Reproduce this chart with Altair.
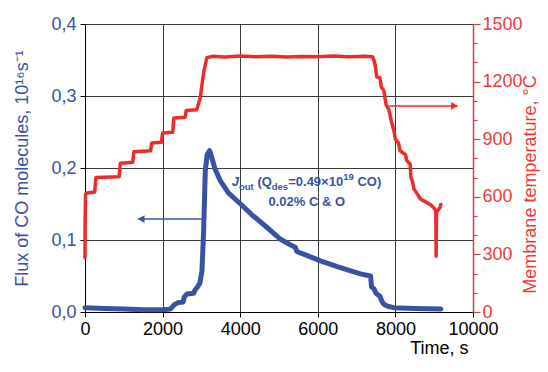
import altair as alt
import pandas as pd

# ---------------- data ----------------
flux_time = [0, 500, 1000, 1500, 2000, 2200, 2300, 2400, 2530, 2560, 2630, 2800, 2840, 2890,
             2960, 3015, 3057, 3100, 3150, 3212, 3260, 3350, 3490, 3700, 4010, 4300, 4700,
             5040, 5300, 5420, 5460, 5700, 6070, 6500, 6850, 7100, 7360, 7385, 7450, 7500,
             7600, 7650, 7700, 7800, 7960, 8500, 9170]
flux_vals = [0.006, 0.005, 0.004, 0.003, 0.003, 0.004, 0.010, 0.013, 0.014, 0.021, 0.025,
             0.026, 0.031, 0.034, 0.040, 0.057, 0.112, 0.196, 0.219, 0.224, 0.216, 0.199,
             0.182, 0.165, 0.150, 0.135, 0.117, 0.101, 0.093, 0.090, 0.084, 0.079, 0.071,
             0.063, 0.057, 0.053, 0.050, 0.035, 0.032, 0.026, 0.022, 0.015, 0.011, 0.008,
             0.006, 0.005, 0.004]

temp_time = [0, 5, 15, 60, 250, 280, 880, 910, 1230, 1260, 1690, 1720, 1970, 2000, 2260,
             2290, 2580, 2610, 2880, 2970, 3060, 3140, 3300, 3600, 4000, 4400, 4800, 5200,
             5600, 6000, 6400, 6800, 7200, 7410, 7450, 7480, 7520, 7600, 7640, 7700, 7760,
             7830, 7900, 7960, 8000, 8080, 8120, 8260, 8290, 8380, 8400, 8440, 8480, 8580,
             8640, 8720, 8900, 9000, 9040, 9050, 9060, 9100, 9150, 9170]
temp_vals = [283, 500, 615, 620, 625, 700, 705, 775, 780, 835, 840, 880, 884, 932, 936,
             1010, 1014, 1050, 1054, 1116, 1250, 1325, 1332, 1328, 1333, 1329, 1332, 1328,
             1331, 1329, 1333, 1330, 1332, 1330, 1310, 1285, 1225, 1220, 1170, 1155, 1080,
             1055, 990, 945, 900, 880, 840, 820, 790, 770, 700, 680, 640, 610, 590, 580, 560,
             540, 530, 290, 520, 530, 545, 560]

# arrows (tail time, tip time, level)
flux_arrow_t = [3010]
flux_arrow_t2 = [1370]
flux_arrow_f = [0.129]
temp_arrow_t = [7840]
temp_arrow_t2 = [9600]
temp_arrow_T = [1073]

# annotation pieces (anchor time, anchor flux)
ann_main_text = ["(Q", "=0.49\u00d710", "CO)", "0.02% C & O"]
ann_main_t = [4443, 5237, 7020, 4727]
ann_main_f = [0.175, 0.175, 0.175, 0.147]
ann_small_text = ["out", "des", "19"]
ann_small_t = [3969, 4814, 6654]
ann_small_f = [0.1694, 0.1694, 0.1833]
ann_j_text = ["J"]
ann_j_t = [3781]
ann_j_f = [0.175]

x_ticks = [0, 2000, 4000, 6000, 8000, 10000]
flux_ticks = [0.0, 0.1, 0.2, 0.3, 0.4]
temp_ticks = list(range(0, 1501, 100))

# ---------------- styling ----------------
BLUE = "#3a52a4"
RED = "#ee2b2b"
RED_LABEL = "#f03a3a"
RED_AXIS = "#c04848"
FONT = "Liberation Sans"

x_enc = alt.X(
    "t:Q",
    scale=alt.Scale(domain=[0, 10000], nice=False, zero=False),
    axis=alt.Axis(
        values=x_ticks, format="d", title="Time, s", grid=True, gridColor="#3a3a3a",
        gridWidth=1, domainColor="black", tickColor="black", tickSize=5,
        labelColor="black", labelFontSize=18, labelFont=FONT, labelPadding=3,
        titleFont=FONT, titleFontSize=18, titleFontWeight="normal", titleColor="black",
        titleAlign="right", titleAnchor="end", titleX=383, titleY=41,
        titleBaseline="alphabetic", labelOverlap=False, labelFlush=False,
    ),
)

flux_y = alt.Y(
    "f:Q",
    scale=alt.Scale(domain=[0, 0.4], nice=False),
    axis=alt.Axis(
        values=flux_ticks, orient="left",
        title="Flux of CO molecules, 10\u00b9\u2076s\u207b\u00b9",
        labelExpr="replace(format(datum.value, '.1f'), '.', ',')",
        grid=True, gridColor="#3a3a3a", gridWidth=1, domainColor="black",
        tickColor="black", tickSize=5, labelColor=BLUE, labelFontSize=18,
        labelFont=FONT, labelPadding=4, titleColor=BLUE, titleFont=FONT,
        titleFontSize=18, titleFontWeight="normal", titleAngle=270,
        titleX=-63, titleY=144, titleAlign="center", titleBaseline="middle",
        labelOverlap=False, labelFlush=False,
    ),
)

temp_y = alt.Y(
    "T:Q",
    scale=alt.Scale(domain=[0, 1500], nice=False),
    axis=alt.Axis(
        values=temp_ticks, orient="right", title="Membrane temperature, \u00b0C",
        labelExpr="datum.value % 300 === 0 ? datum.label : ''",
        grid=False, domainColor=RED_AXIS, domainWidth=1.5, tickColor=RED_AXIS,
        tickWidth=1.2,
        tickSize={"condition": {"test": "datum.value % 300 === 0", "value": 7}, "value": 4},
        labelColor=RED_LABEL, labelFontSize=18, labelFont=FONT, labelPadding=2,
        titleColor=RED_LABEL, titleFont=FONT, titleFontSize=18,
        titleFontWeight="normal", titleAngle=270, titleX=57, titleY=160,
        titleAlign="center", titleBaseline="middle", labelOverlap=False,
        labelFlush=False, format="d",
    ),
)

flux_df = pd.DataFrame({"t": flux_time, "f": flux_vals})
temp_df = pd.DataFrame({"t": temp_time, "T": temp_vals})

flux_line = alt.Chart(flux_df).mark_line(
    color=BLUE, strokeWidth=5, strokeJoin="round", strokeCap="round"
).encode(x=x_enc, y=flux_y)

temp_line = alt.Chart(temp_df).mark_line(
    color=RED, strokeWidth=3.5, strokeJoin="round", strokeCap="round"
).encode(x=x_enc, y=temp_y)

fa_df = pd.DataFrame({"t": flux_arrow_t, "t2": flux_arrow_t2, "f": flux_arrow_f})
flux_arrow = alt.Chart(fa_df).mark_rule(color=BLUE, strokeWidth=1.5).encode(
    x=x_enc, x2="t2:Q", y=flux_y
)
fh_df = pd.DataFrame({"t": flux_arrow_t2, "f": flux_arrow_f})
flux_head = alt.Chart(fh_df).mark_point(
    shape="triangle-left", filled=True, color=BLUE, size=60, opacity=1, xOffset=3
).encode(x=x_enc, y=flux_y)

ta_df = pd.DataFrame({"t": temp_arrow_t, "t2": temp_arrow_t2, "T": temp_arrow_T})
temp_arrow = alt.Chart(ta_df).mark_rule(color=RED, strokeWidth=1.5).encode(
    x=x_enc, x2="t2:Q", y=temp_y
)
th_df = pd.DataFrame({"t": temp_arrow_t2, "T": temp_arrow_T})
temp_head = alt.Chart(th_df).mark_point(
    shape="triangle-right", filled=True, color=RED, size=60, opacity=1, xOffset=-3
).encode(x=x_enc, y=temp_y)

main_df = pd.DataFrame({"t": ann_main_t, "f": ann_main_f, "txt": ann_main_text})
ann_main = alt.Chart(main_df).mark_text(
    font=FONT, fontSize=13, fontWeight="bold", color=BLUE, align="left",
    baseline="alphabetic"
).encode(x=x_enc, y=flux_y, text="txt:N")

small_df = pd.DataFrame({"t": ann_small_t, "f": ann_small_f, "txt": ann_small_text})
ann_small = alt.Chart(small_df).mark_text(
    font=FONT, fontSize=9.5, fontWeight="bold", color=BLUE, align="left",
    baseline="alphabetic"
).encode(x=x_enc, y=flux_y, text="txt:N")

j_df = pd.DataFrame({"t": ann_j_t, "f": ann_j_f, "txt": ann_j_text})
ann_j = alt.Chart(j_df).mark_text(
    font=FONT, fontSize=13, fontWeight="bold", fontStyle="italic", color=BLUE,
    align="left", baseline="alphabetic"
).encode(x=x_enc, y=flux_y, text="txt:N")

left = alt.layer(flux_line, flux_arrow, flux_head, ann_main, ann_small, ann_j)
right = alt.layer(temp_line, temp_arrow, temp_head)

chart = alt.layer(left, right).resolve_scale(y="independent").properties(
    width=388,
    height=288,
    autosize=alt.AutoSizeParams(type="none"),
    padding={"left": 77, "top": 16, "right": 67, "bottom": 46},
).configure_view(stroke=None).configure(background="white")

chart.save("out.html", embed_options={"renderer": "svg", "actions": False})
